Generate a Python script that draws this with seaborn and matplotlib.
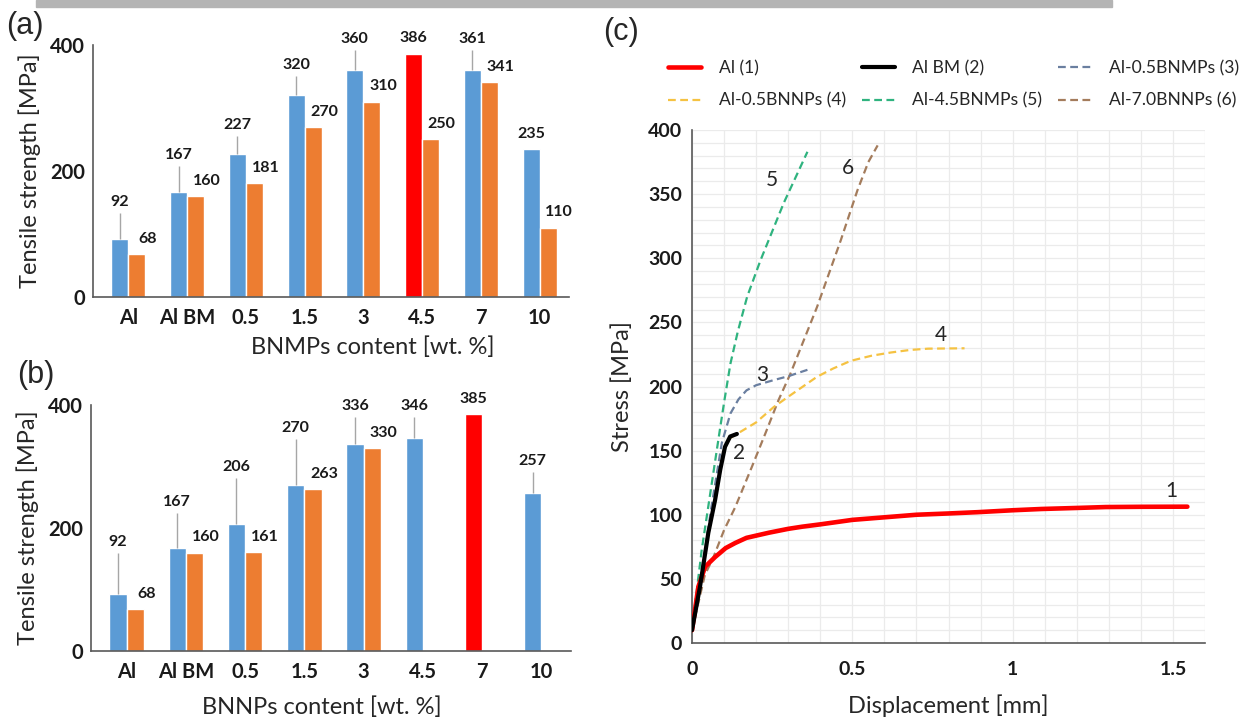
import numpy as np
import pandas as pd
import matplotlib
matplotlib.use("Agg")
import matplotlib.pyplot as plt
from matplotlib.patches import Rectangle
from matplotlib.ticker import MultipleLocator
import seaborn as sns

# ---- data: bar panels ----
categories = ["Al", "Al BM", "0.5", "1.5", "3", "4.5", "7", "10"]

bnmp_blue = [92, 167, 227, 320, 360, 386, 361, 235]
bnmp_orange = [68, 160, 181, 270, 310, 250, 341, 110]
bnmp_err_top = [133, 208, 256, 351, 392, np.nan, 392, np.nan]
bnmp_red = 5

bnnp_blue = [92, 167, 206, 270, 336, 346, 385, 257]
bnnp_orange = [68, 160, 161, 263, 330, np.nan, np.nan, np.nan]
bnnp_err_top = [159, 224, 281, 345, 381, 381, np.nan, 291]
bnnp_red = 6

# ---- data: stress / displacement curves ----
al_x = [0, 0.02, 0.041, 0.072, 0.105, 0.135, 0.17, 0.24, 0.3, 0.344, 0.4, 0.5, 0.6,
        0.7, 0.8, 0.89, 1.0, 1.09, 1.2, 1.29, 1.4, 1.545]
al_y = [10, 44, 59.5, 67, 74, 78, 82, 86, 89, 90.7, 92.5, 96, 98,
        100, 101, 102, 103.5, 104.5, 105.3, 106, 106.2, 106.3]

albm_x = [0, 0.025, 0.051, 0.072, 0.088, 0.103, 0.119, 0.14]
albm_y = [10, 44, 86, 111.5, 135, 153, 161, 163]

bnmp05_x = [0, 0.03, 0.06, 0.093, 0.12, 0.145, 0.17, 0.2, 0.255, 0.3, 0.36]
bnmp05_y = [10, 55, 105, 156, 179, 190, 197, 201, 205, 208, 213]

bnnp05_x = [0, 0.025, 0.051, 0.072, 0.088, 0.103, 0.12, 0.14, 0.2, 0.255, 0.3, 0.39,
            0.44, 0.495, 0.56, 0.62, 0.68, 0.736, 0.85]
bnnp05_y = [10, 45, 87, 112, 136, 153, 160, 163, 172, 184, 192, 207.6,
            214, 220, 224, 226.5, 228.5, 229.5, 229.8]

bnmp45_x = [0, 0.03, 0.062, 0.088, 0.101, 0.12, 0.143, 0.172, 0.213, 0.286, 0.36]
bnmp45_y = [10, 72, 125, 168, 189, 218, 243, 270, 298, 343, 383]

bnnp70_x = [0, 0.04, 0.067, 0.1, 0.135, 0.187, 0.229, 0.27, 0.307, 0.39, 0.464, 0.516,
            0.55, 0.579]
bnnp70_y = [10, 53, 67, 88, 106, 137.5, 163.5, 189.5, 210, 262, 314, 353, 375, 388]

curve_tags = ["1", "2", "3", "4", "5", "6"]
tag_x = [1.495, 0.147, 0.218, 0.777, 0.25, 0.485]
tag_y = [118.8, 148, 209, 240, 361, 370]

BLUE = "#5B9BD5"
ORANGE = "#ED7D31"
RED = "#FF0000"
AXIS = "#595959"

sns.set_style("white")
plt.rcParams["font.family"] = ["Lato", "DejaVu Sans"]

W, H = 1259, 724
fig = plt.figure(figsize=(W / 100, H / 100), dpi=100)


def px_axes(left, top, right, bottom):
    return fig.add_axes([left / W, 1 - bottom / H, (right - left) / W, (bottom - top) / H])


def bar_panel(ax, blue, orange, err_top, red_idx, xlabel, xlabel_pos):
    df = pd.DataFrame({
        "content": categories * 2,
        "strength": blue + orange,
        "series": ["s1"] * len(categories) + ["s2"] * len(categories),
    }).dropna()
    sns.barplot(data=df, x="content", y="strength", hue="series", order=categories,
                hue_order=["s1", "s2"], palette=[BLUE, ORANGE], width=0.58,
                saturation=1, errorbar=None, legend=False, ax=ax)
    blue_bars = ax.containers[0]
    blue_bars[red_idx].set_facecolor(RED)
    for i, p in enumerate(blue_bars):
        cx = p.get_x() + p.get_width() / 2
        h = p.get_height()
        top = err_top[i]
        if np.isfinite(top):
            ax.vlines(cx, h, top, color="#A6A6A6", lw=1, zorder=1)
            ytxt, off = top, 3
        else:
            ytxt, off = h, 6
        ax.annotate(f"{h:.0f}", (cx, ytxt), xytext=(0, off), textcoords="offset points",
                    ha="center", va="bottom", fontsize=11.5, fontweight="bold",
                    color="#1a1a1a", annotation_clip=False)
    for p in ax.containers[1]:
        cx = p.get_x() + p.get_width() / 2
        h = p.get_height()
        ax.annotate(f"{h:.0f}", (cx, h), xytext=(8, 6), textcoords="offset points",
                    ha="center", va="bottom", fontsize=11.5, fontweight="bold",
                    color="#1a1a1a", annotation_clip=False)
    ax.set_ylim(0, 400)
    ax.set_yticks([0, 200, 400])
    ax.set_xlim(-0.6, 7.5)
    ax.set_xlabel(xlabel, fontsize=17)
    ax.xaxis.set_label_coords(*xlabel_pos)
    ax.xaxis.label.set_va("center")
    ax.set_ylabel("Tensile strength [MPa]", fontsize=17, labelpad=6)
    ax.tick_params(axis="x", length=0, pad=8, labelsize=14.5)
    ax.tick_params(axis="y", length=4, width=1, color=AXIS, pad=2, labelsize=14.5)
    for lab in ax.get_xticklabels() + ax.get_yticklabels():
        lab.set_fontweight("bold")
        lab.set_color("#1a1a1a")
    sns.despine(ax=ax)
    for s in ("left", "bottom"):
        ax.spines[s].set_color(AXIS)
        ax.spines[s].set_linewidth(1.2)


ax_a = px_axes(93, 45, 569, 297)
bar_panel(ax_a, bnmp_blue, bnmp_orange, bnmp_err_top, bnmp_red,
          "BNMPs content [wt. %]", (0.588, -0.198))

ax_b = px_axes(91, 405, 571, 651)
bar_panel(ax_b, bnnp_blue, bnnp_orange, bnnp_err_top, bnnp_red,
          "BNNPs content [wt. %]", (0.481, -0.228))

# ---- (c) curves ----
ax_c = px_axes(692, 130, 1205, 643)
curves = [
    (al_x, al_y, "Al (1)", RED, 3.3, "-"),
    (albm_x, albm_y, "Al BM (2)", "black", 3.0, "-"),
    (bnmp05_x, bnmp05_y, "Al-0.5BNMPs (3)", "#6A7FA0", 1.6, "--"),
    (bnnp05_x, bnnp05_y, "Al-0.5BNNPs (4)", "#F5C242", 1.6, "--"),
    (bnmp45_x, bnmp45_y, "Al-4.5BNMPs (5)", "#2FB37F", 1.6, "--"),
    (bnnp70_x, bnnp70_y, "Al-7.0BNNPs (6)", "#A47C5C", 1.6, "--"),
]
draw_order = [5, 4, 3, 2, 0, 1]
for k in draw_order:
    xs, ys, lab, col, lw, ls = curves[k]
    sns.lineplot(x=xs, y=ys, ax=ax_c, color=col, linewidth=lw, linestyle=ls,
                 sort=False, estimator=None, label=lab, zorder=3 + (k < 2))
for ln in ax_c.get_lines():
    if ln.get_linestyle() == "--":
        ln.set_dashes((3.5, 2))

for t, x, y in zip(curve_tags, tag_x, tag_y):
    ax_c.text(x, y, t, ha="center", va="center", fontsize=15, color="#262626")

ax_c.set_xlim(0, 1.6)
ax_c.set_ylim(0, 400)
ax_c.xaxis.set_major_locator(MultipleLocator(0.5))
ax_c.xaxis.set_minor_locator(MultipleLocator(0.1))
ax_c.yaxis.set_major_locator(MultipleLocator(50))
ax_c.yaxis.set_minor_locator(MultipleLocator(10))
ax_c.set_xticks([0, 0.5, 1, 1.5], ["0", "0.5", "1", "1.5"])
ax_c.grid(True, which="both", color="#EBEBEB", lw=0.9)
ax_c.set_axisbelow(True)
ax_c.tick_params(which="both", length=0)
ax_c.tick_params(axis="both", labelsize=14)
ax_c.tick_params(axis="x", pad=13)
ax_c.tick_params(axis="y", pad=7)
for lab in ax_c.get_xticklabels() + ax_c.get_yticklabels():
    lab.set_fontweight("bold")
    lab.set_color("#1a1a1a")
ax_c.set_xlabel("Displacement [mm]", fontsize=17, labelpad=12)
ax_c.set_ylabel("Stress [MPa]", fontsize=17, labelpad=11)
sns.despine(ax=ax_c)
for s in ("left", "bottom"):
    ax_c.spines[s].set_color(AXIS)
    ax_c.spines[s].set_linewidth(1.2)

handles, labels = ax_c.get_legend_handles_labels()
by_label = dict(zip(labels, handles))
order = [curves[i][2] for i in (0, 3, 1, 4, 2, 5)]
ax_c.get_legend().remove()
fig.legend([by_label[l] for l in order], order, loc="upper left",
           bbox_to_anchor=(668 / W, 1 - 60 / H), ncol=3, frameon=False,
           fontsize=12.6, handlelength=1.9, handletextpad=1.0, columnspacing=0.9,
           labelspacing=0.95, borderpad=0, borderaxespad=0)

# panel letters
for txt, x, y in [("(a)", 6, 26), ("(b)", 17, 375), ("(c)", 603, 32)]:
    fig.text(x / W, 1 - y / H, txt, fontsize=22, va="center", ha="left",
             family=["Liberation Sans", "DejaVu Sans"])

# grey strip at the top edge of the scan
fig.patches.append(Rectangle((36 / W, 1 - 7 / H), (1112 - 36) / W, 7 / H,
                             transform=fig.transFigure, color="#B4B4B4", zorder=0))

fig.savefig("out.png", dpi=100)
